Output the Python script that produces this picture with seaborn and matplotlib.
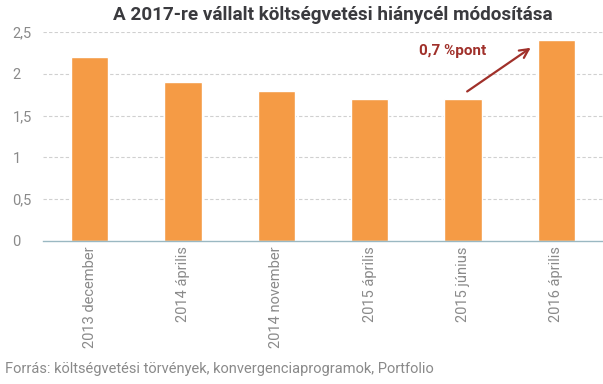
import matplotlib
matplotlib.use("Agg")
import matplotlib.pyplot as plt
import seaborn as sns
import pandas as pd

periods = ["2013 december", "2014 április", "2014 november", "2015 április", "2015 június", "2016 április"]
deficit_target = [2.2, 1.9, 1.8, 1.7, 1.7, 2.4]
y_ticks = [0, 0.5, 1, 1.5, 2, 2.5]
y_tick_labels = ["0", "0,5", "1", "1,5", "2", "2,5"]

df = pd.DataFrame({"period": periods, "value": deficit_target})

sns.set_theme(style="white")
plt.rcParams["font.family"] = ["Roboto", "DejaVu Sans"]

fig = plt.figure(figsize=(6.03, 3.84), dpi=100)
ax = fig.add_axes([43 / 603, 1 - 241 / 384, 560 / 603, 209 / 384])

sns.barplot(ax=ax, data=df, x="period", y="value", color="#F59B45", width=0.4, saturation=1)

ax.set_ylim(0, 2.5)
ax.set_xlim(-0.5, 5.5)
ax.set_yticks(y_ticks)
ax.set_yticklabels(y_tick_labels)
ax.set_xlabel("")
ax.set_ylabel("")
for y in y_ticks[1:]:
    ax.axhline(y, color="#d0d0d0", lw=0.8, ls=(0, (3, 2)), zorder=0)
for s in ["top", "right", "left"]:
    ax.spines[s].set_visible(False)
ax.spines["bottom"].set_color("#9ab8c2")
ax.spines["bottom"].set_linewidth(1)
ax.tick_params(axis="x", labelrotation=90, labelsize=10.5, colors="#8a8a8a", length=0, pad=4)
ax.tick_params(axis="y", labelsize=10.5, colors="#8a8a8a", length=0, pad=22)
for lab in ax.get_yticklabels():
    lab.set_horizontalalignment("left")

ax.annotate("", xy=(4.75, 2.33), xytext=(4.02, 1.77),
            arrowprops=dict(arrowstyle="->", color="#A0302A", lw=1.6, mutation_scale=16))
ax.text(4.25, 2.27, "0,7 %pont", color="#A0302A", fontsize=11, fontweight="bold", ha="right", va="center")

fig.text(0.552, 0.96, "A 2017-re vállalt költségvetési hiánycél módosítása",
         ha="center", va="center", fontsize=13.6, fontweight="bold", color="#3a3a3e")
fig.text(0.008, 0.04, "Forrás: költségvetési törvények, konvergenciaprogramok, Portfolio",
         ha="left", va="center", fontsize=10.5, color="#8a8a8a")

fig.savefig("out.png", dpi=100)
